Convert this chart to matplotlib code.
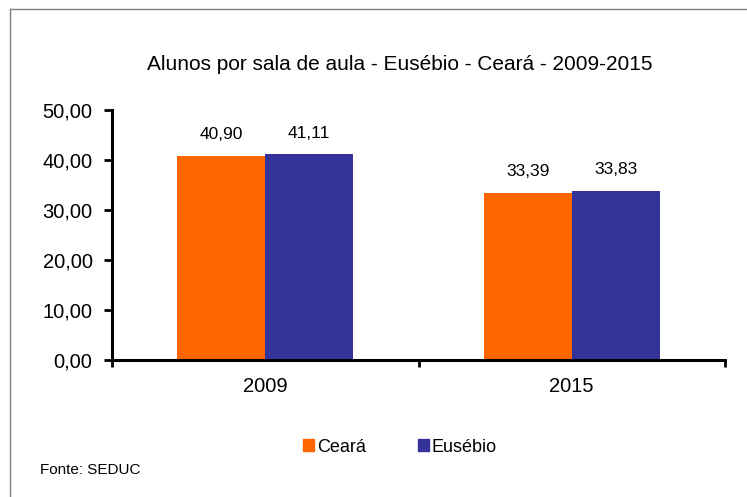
import matplotlib
matplotlib.use("Agg")
import matplotlib.pyplot as plt
from matplotlib.lines import Line2D
from matplotlib.patches import Patch

plt.rcParams['font.family'] = ['Liberation Sans', 'DejaVu Sans']

anos = ["2009", "2015"]
ceara = [40.90, 33.39]
eusebio = [41.11, 33.83]
series = ["Ceará", "Eusébio"]
cores = ["#FF6600", "#333399"]
yticks = [0, 10, 20, 30, 40, 50]


def br(v):
    return f"{v:.2f}".replace(".", ",")


fig = plt.figure(figsize=(7.47, 4.97), dpi=100)
ax = fig.add_axes([112 / 747, 1 - 360 / 497, 613 / 747, 250 / 497])

x = list(range(len(anos)))
w = 0.287
b1 = ax.bar([i - w / 2 for i in x], ceara, width=w, color=cores[0])
b2 = ax.bar([i + w / 2 for i in x], eusebio, width=w, color=cores[1])

for bars, vals in [(b1, ceara), (b2, eusebio)]:
    for bar, v in zip(bars, vals):
        ax.annotate(br(v), (bar.get_x() + bar.get_width() / 2, v),
                    xytext=(0, 10), textcoords="offset points",
                    ha="center", va="bottom", fontsize=12.5)

ax.set_xlim(-0.5, 1.5)
ax.set_ylim(0, 50)
ax.set_yticks(yticks)
ax.set_yticklabels([br(v) for v in yticks], fontsize=14.5)
ax.set_xticks(x)
ax.set_xticklabels(anos, fontsize=14.5)
ax.set_xticks([-0.5, 0.5, 1.5], minor=True)
ax.tick_params(axis="x", which="major", length=0, pad=12)
ax.tick_params(axis="x", which="minor", length=5, width=2, direction="out")
ax.tick_params(axis="y", length=6, width=2, direction="out", pad=8)

for s in ["top", "right"]:
    ax.spines[s].set_visible(False)
for s in ["left", "bottom"]:
    ax.spines[s].set_linewidth(2.2)

fig.text(400 / 747, 1 - 65 / 497, "Alunos por sala de aula - Eusébio - Ceará - 2009-2015",
         ha="center", va="center", fontsize=15)

handles = [Patch(color=c) for c in cores]
fig.legend(handles, series, loc="center", bbox_to_anchor=(400 / 747, 1 - 447 / 497),
           ncol=2, frameon=False, fontsize=13, handlelength=0.6, handleheight=0.6,
           handletextpad=0.15, columnspacing=2.9)

fig.text(40 / 747, 1 - 470 / 497, "Fonte: SEDUC", ha="left", va="center", fontsize=11)

# moldura
fig.add_artist(Line2D([9.5 / 747, 9.5 / 747], [0, 1 - 8.5 / 497], color="#808080", lw=1))
fig.add_artist(Line2D([9.5 / 747, 1], [1 - 8.5 / 497, 1 - 8.5 / 497], color="#808080", lw=1))

fig.savefig("out.png", dpi=100)
